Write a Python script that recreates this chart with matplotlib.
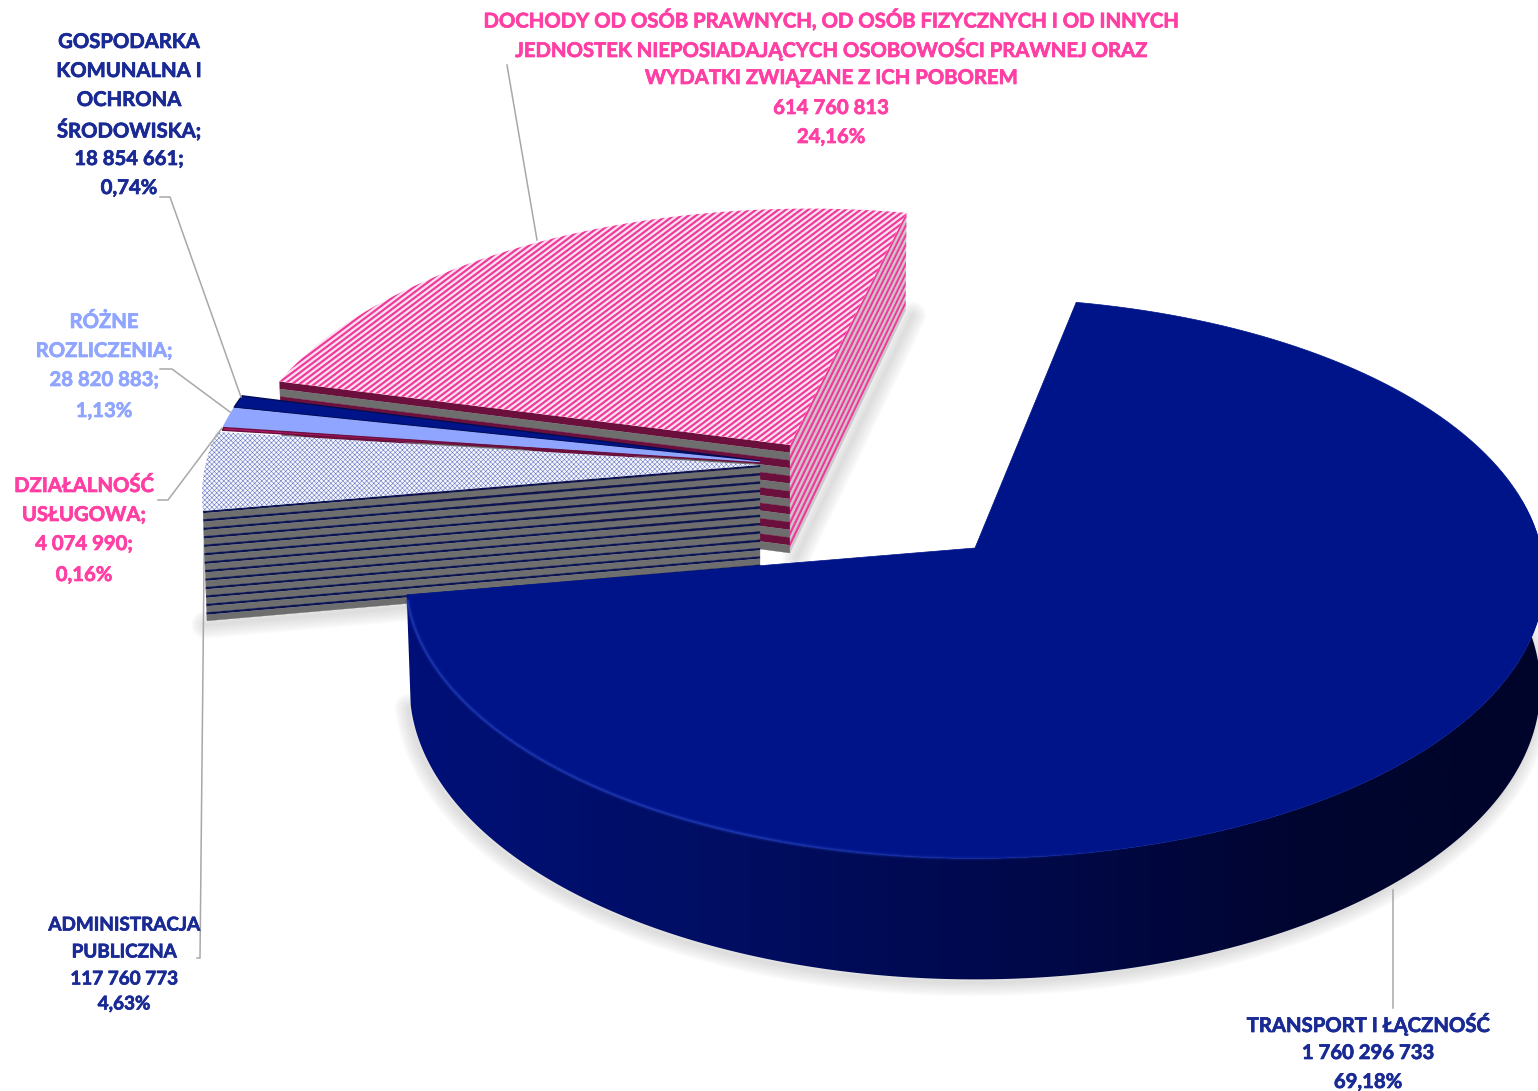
import numpy as np
import matplotlib
matplotlib.use("Agg")
import matplotlib.pyplot as plt
import matplotlib.patheffects as pe
from matplotlib.patches import Polygon
from matplotlib.collections import LineCollection

# ---------- data ----------
categories = ["TRANSPORT I ŁĄCZNOŚĆ", "ADMINISTRACJA PUBLICZNA", "DZIAŁALNOŚĆ USŁUGOWA",
              "RÓŻNE ROZLICZENIA", "GOSPODARKA KOMUNALNA I OCHRONA ŚRODOWISKA",
              "DOCHODY OD OSÓB PRAWNYCH"]
values = [1760296733, 117760773, 4074990, 28820883, 18854661, 614760813]

label_transport = ["TRANSPORT I ŁĄCZNOŚĆ", "1 760 296 733", "69,18%"]
label_admin = ["ADMINISTRACJA", "PUBLICZNA", "117 760 773", "4,63%"]
label_dzial = ["DZIAŁALNOŚĆ", "USŁUGOWA;", "4 074 990;", "0,16%"]
label_rozne = ["RÓŻNE", "ROZLICZENIA;", "28 820 883;", "1,13%"]
label_gosp = ["GOSPODARKA", "KOMUNALNA I", "OCHRONA", "ŚRODOWISKA;", "18 854 661;", "0,74%"]
label_doch = ["DOCHODY OD OSÓB PRAWNYCH, OD OSÓB FIZYCZNYCH I OD INNYCH",
              "JEDNOSTEK NIEPOSIADAJĄCYCH OSOBOWOŚCI PRAWNEJ ORAZ",
              "WYDATKI ZWIĄZANE Z ICH POBOREM", "614 760 813", "24,16%"]

# ---------- layout / style ----------
W, H = 1538, 1091
RX, RY, PERSP, DEPTH = 566.0, 277.0, 0.1075, 108.0
START = 11.4
NAVY, NAVY_TXT, PINK_TXT, LBLUE = "#00148A", "#1A2A94", "#FF3FA4", "#8FA5FF"
MAROON, GRAY, PINK, LGRAY = "#6B0F3C", "#6E6E6E", "#F0389A", "#CBC6C9"
LEADER = "#A8A8A8"

plt.rcParams["font.family"] = ["Lato", "DejaVu Sans"]
plt.rcParams["hatch.linewidth"] = 0.4
fig = plt.figure(figsize=(W / 100, H / 100), dpi=100)
ax = fig.add_axes([0, 0, 1, 1])

shares = np.array(values, dtype=float) / np.sum(values) * 360.0
edges = START + np.concatenate([[0], np.cumsum(shares)])


def top(phi, apex, r=1.0, ry=None, skew=0.0):
    ry = r if ry is None else ry
    a = np.radians(phi)
    X, Y = np.sin(a), -np.cos(a)
    g = 1 / (1 - PERSP * Y)
    return np.column_stack([apex[0] + RX * r * X * g - skew * Y, apex[1] + RY * ry * Y * g]), g


def extrude(phi, apex):
    p, g = top(phi, apex)
    out = p.copy()
    out[:, 0] = apex[0] + (p[:, 0] - apex[0]) * 0.993
    out[:, 1] = p[:, 1] + DEPTH * g
    return out


def wedge_pts(a0, a1, apex, r=1.0, ry=None, skew=0.0):
    phis = np.linspace(a0, a1, 160)
    return np.vstack([[apex], top(phis, apex, r, ry, skew)[0]])


def stripes(phi, apex, pattern, n, z, r=1.0, ry=None, skew=0.0):
    """Bands down a radial face, from the apex to the rim at angle phi."""
    rims, gs = top(np.array([phi]), apex, r, ry, skew)
    rim, g_rim = rims[0], gs[0]
    pos = 0.0
    for k in range(n):
        for col, fr in pattern:
            f0, f1 = pos / n, (pos + fr) / n
            pos += fr
            poly = [(apex[0], apex[1] + DEPTH * f0), (apex[0], apex[1] + DEPTH * f1),
                    (rim[0] + 0.007 * (apex[0] - rim[0]) * f1, rim[1] + DEPTH * g_rim * f1),
                    (rim[0] + 0.007 * (apex[0] - rim[0]) * f0, rim[1] + DEPTH * g_rim * f0)]
            ax.add_patch(Polygon(poly, closed=True, fc=col, ec=col, lw=0.2, zorder=z))


def soft_shadow(pts, z, dx=0, dy=0, widths=np.arange(2, 21, 2), alpha=0.022):
    pts = np.asarray(pts)
    for w in widths:
        ax.plot(pts[:, 0] + dx, pts[:, 1] + dy, color="#777777", lw=w, alpha=alpha,
                solid_capstyle="round", zorder=z)


def hatch_lines(poly, slope, spacing, col, lw, z):
    x0, x1 = poly[:, 0].min(), poly[:, 0].max()
    y0, y1 = poly[:, 1].min(), poly[:, 1].max()
    cs = np.arange(y0 + slope * x0 - spacing, y1 + slope * x1 + spacing, spacing)
    segs = [[(x0, c - slope * x0), (x1, c - slope * x1)] for c in cs]
    lc = LineCollection(segs, colors=col, linewidths=lw, zorder=z)
    ax.add_collection(lc)
    lc.set_clip_path(Polygon(poly, closed=True, transform=ax.transData))


# slice geometry: apex (pull-out) and radius of each slice
apex_main, apex_admin = (975, 548), (760, 465)
apex_dzial, apex_rozne, apex_gosp, apex_doch = (760, 463), (760, 462), (760, 461), (790, 445)
r_small, r_admin = 0.97, 0.98
doch_geo = dict(r=0.965, ry=0.945, skew=19.0)

# ---- pink slice (back) ----
p_rim, p_g = top(np.array([edges[6]]), apex_doch, **doch_geo)
soft_shadow([(p_rim[0][0], p_rim[0][1] + DEPTH * p_g[0]), (apex_doch[0], apex_doch[1] + DEPTH)], 1, 6, 5)
stripes(edges[5], apex_doch, [(MAROON, 0.5), (GRAY, 0.5)], 7, 3, **doch_geo)
stripes(edges[6], apex_doch, [(PINK, 0.5), (LGRAY, 0.5)], 10, 3, **doch_geo)
poly = wedge_pts(edges[5], edges[6], apex_doch, **doch_geo)
ax.add_patch(Polygon(poly, closed=True, fc="#FDE0EF", ec="none", zorder=4))
hatch_lines(poly, 0.75, 5.6, PINK, 1.55, 5)

# ---- thin slices ----
for a0, a1, ap, col, dark in [(edges[4], edges[5], apex_gosp, NAVY, "#000C55"),
                              (edges[3], edges[4], apex_rozne, LBLUE, "#8FA5FF"),
                              (edges[2], edges[3], apex_dzial, "#B5156C", "#6B0F3C")]:
    ax.add_patch(Polygon(wedge_pts(a0, a1, ap, r_small), closed=True, fc=col, ec=dark,
                         lw=1.0, zorder=6))

# ---- administracja ----
a_rim, a_g = top(np.array([edges[1]]), apex_admin, r_admin)
soft_shadow([(a_rim[0][0] + 4, a_rim[0][1] + DEPTH * a_g[0]), (apex_admin[0], apex_admin[1] + DEPTH)], 1, -2, 4)
stripes(edges[1], apex_admin, [("#0B1450", 0.28), (GRAY, 0.72)], 13, 7, r_admin)
poly = wedge_pts(edges[1], edges[2], apex_admin, r_admin)
ax.add_patch(Polygon(poly, closed=True, facecolor="#F6F7FD", edgecolor="#6A78C4", lw=0,
                     hatch="xxxxxxx", zorder=8))

# ---- transport (front) ----
phis = np.linspace(80, edges[1], 300)
t = top(phis, apex_main)[0]
b = extrude(phis, apex_main)
soft_shadow(b, 10, -2, 3)
shade_x = [400, 700, 1000, 1300, 1450, 1538]
shade_r = [(0, 16, 120), (0, 14, 100), (0, 9, 76), (0, 5, 48), (0, 5, 44), (0, 4, 42)]
shade = np.array(shade_r, dtype=float) / 255
grad_x = np.arange(400, W + 1)
grad = np.column_stack([np.interp(grad_x, shade_x, shade[:, k]) for k in range(3)])[None, :, :]
side_poly = Polygon(np.vstack([t, b[::-1]]), closed=True, transform=ax.transData)
im = ax.imshow(grad, extent=[400, W, H, 0], aspect="auto", zorder=11, interpolation="bilinear")
im.set_clip_path(side_poly)
poly = wedge_pts(edges[0], edges[1], apex_main)
ax.add_patch(Polygon(poly, closed=True, fc=NAVY, ec=NAVY, lw=0.5, zorder=12))
rim_phis = np.linspace(165, edges[1] - 1, 200)
rim = top(rim_phis, apex_main)[0]
fade = np.clip((rim_phis - 165) / 35, 0, 1)
for lw, al in [(3.5, 0.22), (1.6, 0.5)]:
    segs = np.stack([rim[:-1], rim[1:]], axis=1)
    rgba = [(0.137, 0.25, 0.745, al * f) for f in fade[:-1]]
    ax.add_collection(LineCollection(segs, colors=rgba, linewidths=lw, zorder=13))

# ---- leader lines ----
leaders = [[(160, 197), (170, 197), (241, 397)], [(160, 369), (172, 369), (230, 412)],
           [(158, 500), (168, 500), (222, 428)], [(197, 958), (200, 958), (205, 470)],
           [(507, 65), (537, 240)], [(1393, 1008), (1393, 890)]]
for i, pts in enumerate(leaders):
    pts = np.array(pts)
    ax.plot(pts[:, 0], pts[:, 1], color=LEADER, lw=1.1, zorder=2 if i == 3 else 14)

# ---- labels ----
def label(lines, x, ys, col, size):
    for s, y in zip(lines, ys):
        ax.text(x, y + 2, s, color=col, fontsize=size, fontweight="bold", ha="center",
                va="center", zorder=20,
                path_effects=[pe.withStroke(linewidth=0.5, foreground=col)])


FS = 14.6
label(label_doch, 831, [18, 47, 76, 106, 135], PINK_TXT, FS)
label(label_gosp, 129, [40, 69, 98, 128, 157, 186], NAVY_TXT, FS)
label(label_rozne, 104, [320, 349, 378, 409], LBLUE, FS)
label(label_dzial, 84, [484, 513, 542, 573], PINK_TXT, FS)
label(label_admin, 124, [923, 950, 977, 1002], NAVY_TXT, 13.6)
label(label_transport, 1368, [1022, 1051, 1080], NAVY_TXT, FS)

ax.set_xlim(0, W)
ax.set_ylim(H, 0)
ax.axis("off")
fig.savefig("out.png", dpi=100, facecolor="white")
